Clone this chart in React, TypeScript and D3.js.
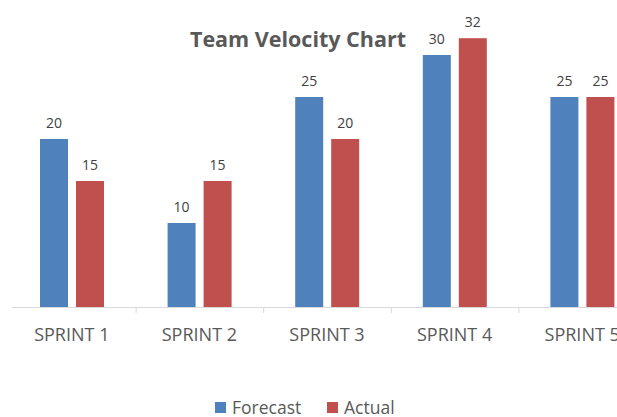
import * as d3 from "d3";

const categories = ["SPRINT 1", "SPRINT 2", "SPRINT 3", "SPRINT 4", "SPRINT 5"];
const seriesNames = ["Forecast", "Actual"];
const forecast = [20, 10, 25, 30, 25];
const actual = [15, 15, 20, 32, 25];
const colors = ["#4F81BD", "#C0504D"];

const W = 617;
const H = 417;
const FONT = "'Open Sans', 'DejaVu Sans', sans-serif";

export default function App() {
  const base = 307;
  const x = d3.scaleBand<string>().domain(categories).range([8, 8 + 5 * 127.6]).padding(0);
  const x1 = d3
    .scaleBand<string>()
    .domain(seriesNames)
    .range([32, 96])
    .paddingInner(0.222)
    .paddingOuter(0);
  const y = d3.scaleLinear().domain([0, 35]).range([base, base - 35 * 8.4]);

  const data = [forecast, actual];
  const ticks = categories.slice(1).map((c) => x(c) as number);

  return (
    <svg width={W} height={H} style={{ position: "absolute", left: 0, top: 0, background: "#fff" }}>
      <text
        x={298}
        y={47}
        textAnchor="middle"
        fontFamily={FONT}
        fontWeight="bold"
        fontSize={21.5}
        fill="#595959"
      >
        Team Velocity Chart
      </text>

      {data.map((vals, si) =>
        vals.map((v, ci) => {
          const bx = (x(categories[ci]) as number) + (x1(seriesNames[si]) as number);
          const bw = x1.bandwidth();
          return (
            <g key={`${si}-${ci}`}>
              <rect x={bx} y={y(v)} width={bw} height={base - y(v)} fill={colors[si]} />
              <text
                x={bx + bw / 2}
                y={y(v) - 11}
                textAnchor="middle"
                fontFamily={FONT}
                fontSize={14}
                fill="#404040"
              >
                {v}
              </text>
            </g>
          );
        })
      )}

      <line x1={12} x2={W} y1={base + 0.5} y2={base + 0.5} stroke="#d9d9d9" strokeWidth={1} />
      {ticks.map((t, i) => (
        <line key={i} x1={t + 0.5} x2={t + 0.5} y1={base} y2={base + 6} stroke="#d9d9d9" />
      ))}
      {categories.map((c) => (
        <text
          key={c}
          x={(x(c) as number) + x.bandwidth() / 2}
          y={341}
          textAnchor="middle"
          fontFamily={FONT}
          fontSize={18}
          fill="#595959"
        >
          {c}
        </text>
      ))}

      {seriesNames.map((s, i) => {
        const lx = i === 0 ? 215 : 327;
        return (
          <g key={s}>
            <rect x={lx} y={402} width={11} height={11} fill={colors[i]} />
            <text x={lx + 17} y={414} fontFamily={FONT} fontSize={17.5} fill="#595959">
              {s}
            </text>
          </g>
        );
      })}
    </svg>
  );
}
